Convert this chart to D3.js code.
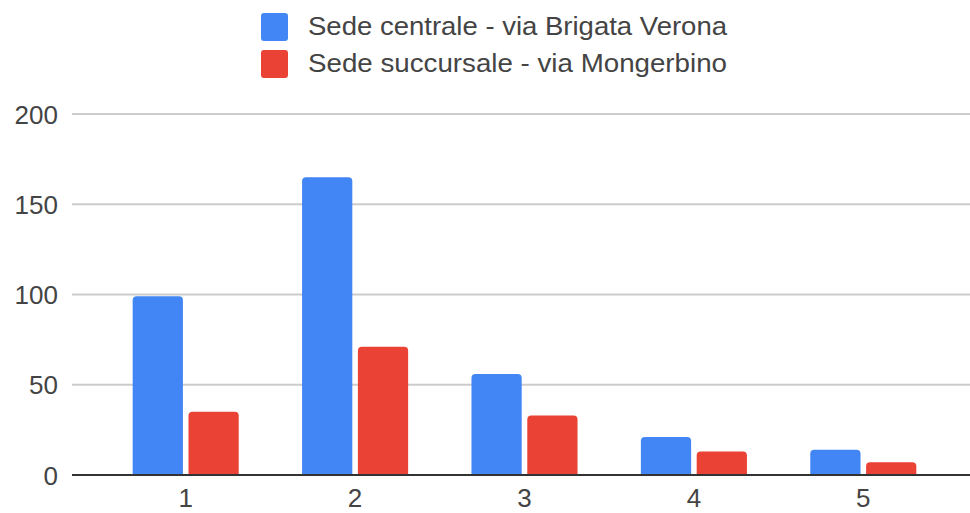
<!DOCTYPE html>
<html>
<head>
<meta charset="utf-8">
<script src="https://cdn.jsdelivr.net/npm/d3@7"></script>
<style>
  body { margin: 0; background: #fff; }
  text { font-family: "Liberation Sans", Arial, sans-serif; fill: #444; }
</style>
</head>
<body>
<script>
var categories = ["1", "2", "3", "4", "5"];
var seriesNames = ["Sede centrale - via Brigata Verona", "Sede succursale - via Mongerbino"];
var centrale = [99, 165, 56, 21, 14];
var succursale = [35, 71, 33, 13, 7];
var yTicks = [0, 50, 100, 150, 200];
var colors = ["#4285f4", "#ea4335"];

var width = 970,
    height = 513;

var svg = d3.select("body")
    .append("svg")
    .attr("width", width)
    .attr("height", height);

//scales
var x = d3.scaleBand()
    .domain(categories)
    .range([101, 948])
    .paddingInner(0.374)
    .paddingOuter(0.187);

var xInner = d3.scaleBand()
    .domain([0, 1])
    .range([0, x.bandwidth()])
    .paddingInner(0.1);

var y = d3.scaleLinear()
    .domain([0, 200])
    .range([475, 114]);

//gridlines
svg.append("g")
    .selectAll("line")
    .data(yTicks.slice(1))
    .enter()
    .append("line")
    .attr("x1", 72)
    .attr("x2", 970)
    .attr("y1", function(d){ return y(d); })
    .attr("y2", function(d){ return y(d); })
    .attr("stroke", "#cccccc")
    .attr("stroke-width", 2);

//y axis labels
var yAxis = d3.axisLeft(y)
    .tickValues(yTicks)
    .tickSize(0)
    .tickPadding(0);

svg.append("g")
    .attr("transform", "translate(58,0)")
    .call(yAxis)
    .call(function(g){ g.select(".domain").remove(); })
    .selectAll("text")
    .attr("font-family", null)
    .style("font-size", "26px")
    .attr("dy", "0.35em");

//bars
var rows = categories.map(function(c, i){
    return { cat: c, vals: [centrale[i], succursale[i]] };
});

function topRounded(x0, y0, w, h, r){
    r = Math.min(r, h, w / 2);
    return "M" + x0 + "," + (y0 + h) +
        "V" + (y0 + r) +
        "Q" + x0 + "," + y0 + " " + (x0 + r) + "," + y0 +
        "H" + (x0 + w - r) +
        "Q" + (x0 + w) + "," + y0 + " " + (x0 + w) + "," + (y0 + r) +
        "V" + (y0 + h) + "Z";
}

var groups = svg.selectAll(".group")
    .data(rows)
    .enter()
    .append("g")
    .attr("class", "group")
    .attr("transform", function(d){ return "translate(" + x(d.cat) + ",0)"; });

groups.selectAll("path")
    .data(function(d){ return d.vals.map(function(v, j){ return { s: j, v: v }; }); })
    .enter()
    .append("path")
    .attr("d", function(d){
        return topRounded(xInner(d.s), y(d.v), xInner.bandwidth(), y(0) - y(d.v), 4);
    })
    .attr("fill", function(d){ return colors[d.s]; });

//baseline
svg.append("line")
    .attr("x1", 72)
    .attr("x2", 970)
    .attr("y1", y(0))
    .attr("y2", y(0))
    .attr("stroke", "#333")
    .attr("stroke-width", 2);

//x axis labels
var xAxis = d3.axisBottom(x)
    .tickSize(0)
    .tickPadding(0);

svg.append("g")
    .attr("transform", "translate(0," + y(0) + ")")
    .call(xAxis)
    .call(function(g){ g.select(".domain").remove(); })
    .selectAll("text")
    .attr("font-family", null)
    .style("font-size", "26px")
    .attr("y", 32)
    .attr("dy", 0);

//legend
var legend = svg.selectAll(".legend")
    .data(seriesNames)
    .enter()
    .append("g")
    .attr("class", "legend")
    .attr("transform", function(d, i){ return "translate(261," + (13 + i * 37) + ")"; });

legend.append("rect")
    .attr("width", 27)
    .attr("height", 28)
    .attr("rx", 3)
    .attr("fill", function(d, i){ return colors[i]; });

legend.append("text")
    .attr("x", 47)
    .attr("y", 22)
    .attr("textLength", 419)
    .attr("lengthAdjust", "spacingAndGlyphs")
    .style("font-size", "25px")
    .text(function(d){ return d; });
</script>
</body>
</html>
